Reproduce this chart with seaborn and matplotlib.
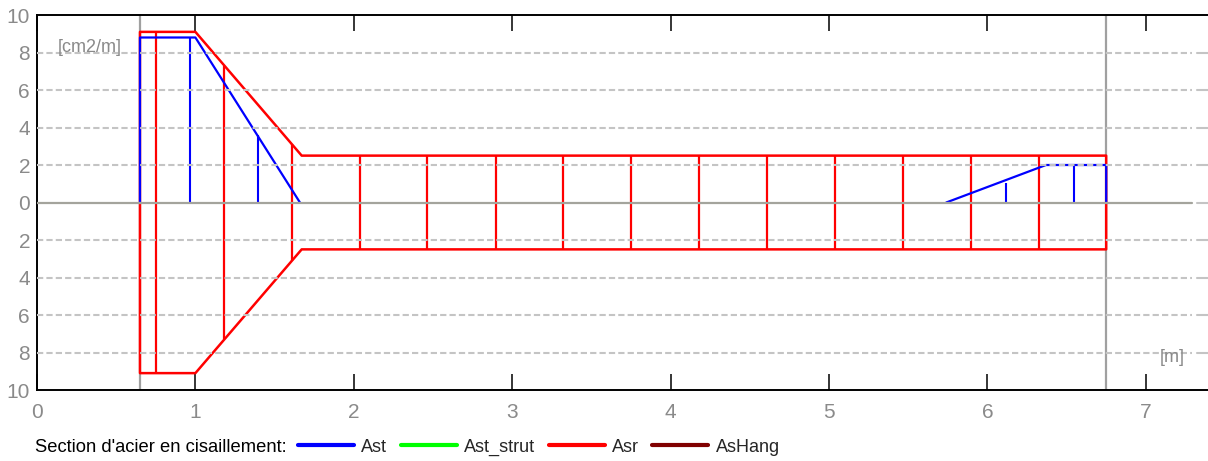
import numpy as np
import pandas as pd
import matplotlib
matplotlib.use("Agg")
import matplotlib.pyplot as plt
import seaborn as sns
from matplotlib.lines import Line2D

# Shear reinforcement diagram (section d'acier en cisaillement)
SUPPORT_X = [0.65, 6.75]

# Asr envelope (upper half, mirrored below)
ASR_X = [0.65, 0.65, 1.00, 1.671, 6.75, 6.75]
ASR_Y = [0.0, 9.1, 9.1, 2.5, 2.5, 0.0]
# Asr stirrup lines
STIRRUP_X = [0.75, 1.18, 1.608, 2.04, 2.465, 2.895, 3.322, 3.75, 4.178, 4.606,
             5.035, 5.465, 5.894, 6.323]
STIRRUP_H = [9.1, 7.3, 3.1, 2.5, 2.5, 2.5, 2.5, 2.5, 2.5, 2.5,
             2.5, 2.5, 2.5, 2.5]

# Ast (two zones)
AST1_X = [0.65, 0.65, 1.00, 1.66]
AST1_Y = [0.0, 8.8, 8.8, 0.0]
AST2_X = [5.74, 6.37, 6.75, 6.75]
AST2_Y = [0.0, 2.0, 2.0, 0.0]
AST_BAR_X = [0.968, 1.393, 6.115, 6.545]
AST_BAR_H = [8.8, 3.6, 1.05, 2.0]

XTICKS = [0, 1, 2, 3, 4, 5, 6, 7]
YTICKS = [-10, -8, -6, -4, -2, 0, 2, 4, 6, 8, 10]

sns.set_theme(style="white")
plt.rcParams["font.family"] = ["Liberation Sans", "DejaVu Sans"]

GREY_TXT = "#8a8a8a"
RED = "#ff0000"
BLUE = "#0000ff"

fig = plt.figure(figsize=(12.08, 4.61), dpi=100)
ax = fig.add_axes([37 / 1208, 1 - 390 / 461, 1 - 37 / 1208, 375 / 461])

# envelope, upper and lower
env = pd.DataFrame({"x": ASR_X + ASR_X[::-1],
                    "y": ASR_Y + [-v for v in ASR_Y[::-1]]})
sns.lineplot(data=env, x="x", y="y", sort=False, estimator=None,
             color=RED, lw=1.8, ax=ax, zorder=2)
ax.vlines(STIRRUP_X, [-h for h in STIRRUP_H], STIRRUP_H, color=RED, lw=1.6, zorder=2)

for xs, ys in [(AST1_X, AST1_Y), (AST2_X, AST2_Y)]:
    d = pd.DataFrame({"x": xs, "y": ys})
    sns.lineplot(data=d, x="x", y="y", sort=False, estimator=None,
                 color=BLUE, lw=1.6, ax=ax, zorder=2.5)
ax.vlines(AST_BAR_X, 0, AST_BAR_H, color=BLUE, lw=1.5, zorder=2.5)

# supports
for xs in SUPPORT_X:
    ax.axvline(xs, color="#a0a0a0", lw=1.6, zorder=1)

# horizontal grid with a small gap near the right edge
for yv in YTICKS[1:-1]:
    if yv == 0:
        ax.axhline(0, xmax=0.986, color="#a4a49c", lw=1.6, zorder=3)
    else:
        ax.axhline(yv, xmax=0.986, color="#c4c4c4", lw=1.5, ls=(0, (3, 1.5)), zorder=3)
    ax.axhline(yv, xmin=0.9905, color="#c4c4c4", lw=1.5, zorder=3)

ax.set_xlim(0, (1208 - 37) / 158.4)
ax.set_ylim(-10, 10)
ax.set_xticks(XTICKS)
ax.set_yticks(YTICKS)
ax.set_yticklabels([str(abs(v)) for v in YTICKS])
ax.tick_params(axis="x", direction="in", length=11.5, width=1.1, color="black",
               top=True, bottom=True, labelsize=15, labelcolor=GREY_TXT, pad=9)
ax.tick_params(axis="y", length=0, labelsize=15, labelcolor=GREY_TXT, pad=5)
ax.set_xlabel("")
ax.set_ylabel("")
for s in ["left", "top", "bottom"]:
    ax.spines[s].set_color("black")
    ax.spines[s].set_linewidth(1.4)
ax.spines["right"].set_visible(False)

ax.text(0.13, 8.25, "[cm2/m]", color=GREY_TXT, fontsize=13, va="center", ha="left")
ax.text(7.245, -8.25, "[m]", color=GREY_TXT, fontsize=13, va="center", ha="right")

# legend row
fig.text(35 / 1208, 0.03, "Section d'acier en cisaillement:", fontsize=13.2,
         color="black", va="center", ha="left")
handles = [Line2D([], [], color=BLUE, lw=3),
           Line2D([], [], color="#00ff00", lw=3),
           Line2D([], [], color=RED, lw=3),
           Line2D([], [], color="#800000", lw=3)]
fig.legend(handles, ["Ast", "Ast_strut", "Asr", "AsHang"], ncol=4,
           loc="center left", bbox_to_anchor=(298 / 1208, 0.03), frameon=False,
           fontsize=13, handlelength=3.1, handletextpad=0.4, columnspacing=0.75,
           borderpad=0, borderaxespad=0)

fig.savefig("out.png", dpi=100)
